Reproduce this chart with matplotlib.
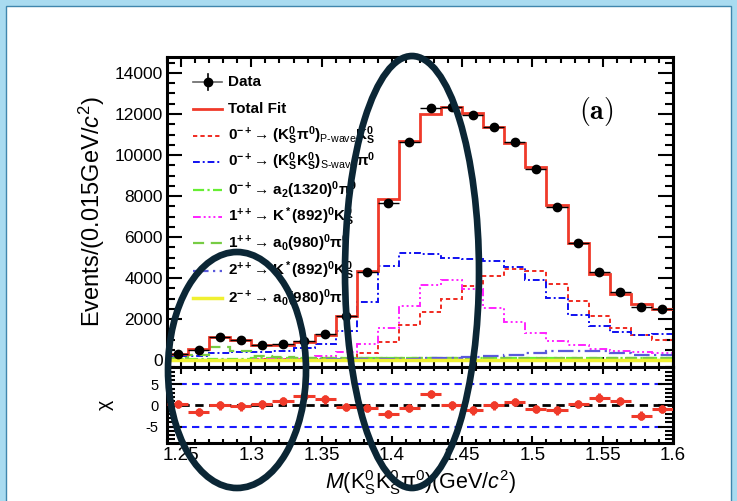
import numpy as np
import matplotlib
matplotlib.use("Agg")
import matplotlib.pyplot as plt
from matplotlib.patches import Rectangle, Ellipse
from matplotlib.lines import Line2D
from matplotlib.ticker import MultipleLocator, FixedLocator

# ---------------- data ----------------
bin_low = 1.24
bin_width = 0.015
n_bins = 24

data = [300, 480, 1140, 975, 755, 765, 920, 1270, 2150, 4280, 7670, 10650,
        12280, 12360, 11950, 11380, 10650, 9320, 7480, 5720, 4310, 3300, 2600, 2470]
data_err = [17, 22, 34, 31, 27, 28, 30, 36, 46, 65, 88, 103,
            111, 111, 109, 107, 103, 97, 86, 76, 66, 57, 51, 50]
total_fit = [290, 515, 1140, 980, 750, 738, 855, 1220, 2170, 4320, 7840, 10700,
             11990, 12360, 12070, 11380, 10570, 9400, 7580, 5690, 4190, 3240, 2720, 2510]
pwave_kspi = [20, 20, 25, 25, 30, 35, 40, 50, 65, 340, 900, 1700,
              2340, 2970, 3610, 4100, 4450, 4330, 3720, 2890, 2150, 1560, 1220, 990]
swave_ksks = [180, 180, 340, 375, 375, 420, 585, 800, 1430, 2850, 4580, 5230,
              5180, 4970, 4920, 4840, 4520, 3920, 3020, 2180, 1640, 1350, 1220, 1280]
a2_1320 = [60, 60, 70, 70, 80, 80, 90, 90, 100, 100, 100, 110,
           110, 110, 110, 120, 120, 120, 110, 110, 100, 100, 100, 90]
kstar_1pp = [10, 10, 15, 20, 30, 45, 65, 180, 390, 780, 1580, 2650,
             3650, 3900, 3450, 2560, 1870, 1310, 950, 720, 555, 460, 400, 320]
a0_1pp = [110, 230, 620, 455, 190, 150, 120, 100, 90, 90, 90, 90,
          90, 90, 90, 90, 100, 100, 100, 100, 100, 100, 100, 100]
kstar_2pp = [15, 15, 15, 20, 20, 20, 25, 30, 40, 50, 60, 70,
             80, 100, 130, 180, 230, 340, 455, 455, 420, 340, 255, 225]
a0_2mp = [15, 15, 20, 20, 20, 20, 20, 20, 20, 20, 20, 20,
          25, 25, 25, 25, 25, 25, 25, 25, 25, 25, 25, 25]
chi = [0.4, -1.6, 0.0, -0.25, 0.25, 1.05, 2.2, 1.45, -0.4, -0.55, -2.0, -0.55,
       2.65, 0.0, -1.2, 0.0, 0.75, -0.8, -1.2, 0.4, 1.85, 1.05, -2.4, -0.8]
chi_err = [1.0] * n_bins
chi_ref_blue = [-5, 5]
chi_ref_black = [0]

x_ticks = [1.25, 1.30, 1.35, 1.40, 1.45, 1.50, 1.55, 1.60]
x_tick_labels = ["1.25", "1.3", "1.35", "1.4", "1.45", "1.5", "1.55", "1.6"]
y_ticks = [0, 2000, 4000, 6000, 8000, 10000, 12000, 14000]
chi_ticks = [-5, 0, 5]

legend_labels = [
    "Data",
    "Total Fit",
    "0$^{-+}$\u2192 (K$_S^0$\u03c0$^0$)$_{\\text{P-wave}}$K$_S^0$",
    "0$^{-+}$\u2192 (K$_S^0$K$_S^0$)$_{\\text{S-wave}}$\u03c0$^0$",
    "0$^{-+}$\u2192 a$_2$(1320)$^0$\u03c0$^0$",
    "1$^{++}$\u2192 K$^*$(892)$^0$K$_S^0$",
    "1$^{++}$\u2192 a$_0$(980)$^0$\u03c0$^0$",
    "2$^{++}$\u2192 K$^*$(892)$^0$K$_S^0$",
    "2$^{-+}$\u2192 a$_0$(980)$^0$\u03c0$^0$",
]

# ---------------- style ----------------
plt.rcParams["font.family"] = ["Liberation Sans", "DejaVu Sans"]
plt.rcParams["mathtext.fontset"] = "custom"
plt.rcParams["mathtext.rm"] = "Liberation Sans"
plt.rcParams["mathtext.it"] = "Liberation Sans:italic"
plt.rcParams["mathtext.bf"] = "Liberation Sans:bold"
plt.rcParams["mathtext.default"] = "regular"
plt.rcParams["axes.unicode_minus"] = False

W, H = 737, 501
fig = plt.figure(figsize=(W / 100, H / 100), dpi=100)
fig.patch.set_facecolor("white")

def fx(x):
    return x / W

def fy(y):
    return 1 - y / H

def px_box(l, t, r, b):
    return [l / W, 1 - b / H, (r - l) / W, (b - t) / H]

# page border (light blue frame)
fig.add_artist(Rectangle((0, 0), 1, 1, transform=fig.transFigure,
                         facecolor="#a9dbf0", edgecolor="none", zorder=-10))
fig.add_artist(Rectangle((fx(6), fy(H + 10)), fx(W - 12), (H + 4) / H,
                         transform=fig.transFigure, facecolor="white",
                         edgecolor="#3f86ad", linewidth=1.0, zorder=-9))

edges = np.round(bin_low + bin_width * np.arange(n_bins + 1), 4)
centers = (edges[:-1] + edges[1:]) / 2

ax = fig.add_axes(px_box(167, 57, 673, 367))
axr = fig.add_axes(px_box(167, 367, 673, 443), sharex=ax)

RED = "#f03a2a"
comp_styles = [
    (pwave_kspi, "#f02a20", (0, (2.2, 1.6)), 1.4),
    (swave_ksks, "#1010f0", (0, (3.5, 1.5, 1, 1.5)), 1.4),
    (a2_1320, "#66ee33", (0, (5, 1.5, 1, 1.5)), 1.6),
    (kstar_1pp, "#ff22ff", (0, (4, 1.5, 1, 1.5, 1, 1.5, 1, 1.5)), 1.4),
    (a0_1pp, "#77cc44", (0, (5, 3)), 1.6),
    (kstar_2pp, "#5a5adc", (0, (7, 2, 1, 2)), 1.6),
    (a0_2mp, "#f0f030", "-", 2.5),
]

for vals, col, ls, lw in comp_styles:
    ax.stairs(vals, edges, baseline=None, color=col, linestyle=ls, linewidth=lw, zorder=2)

ax.stairs(total_fit, edges, baseline=None, color=RED, linewidth=2.0, zorder=3)
ax.errorbar(centers, data, xerr=bin_width / 2, yerr=data_err, fmt="o", color="black",
            ms=6, elinewidth=1.0, capsize=0, zorder=4)

ax.set_xlim(edges[0], edges[-1])
ax.set_ylim(-340, 14780)
ax.yaxis.set_major_locator(FixedLocator(y_ticks))
ax.yaxis.set_minor_locator(MultipleLocator(500))
ax.xaxis.set_major_locator(FixedLocator(x_ticks))
ax.xaxis.set_minor_locator(MultipleLocator(0.01))
ax.set_yticklabels([str(v) for v in y_ticks])
ax.tick_params(axis="both", which="both", direction="in", top=True, right=True,
               labelbottom=False, width=1.5)
ax.tick_params(axis="y", which="major", length=10.5, labelsize=12.5, pad=3)
ax.tick_params(axis="y", which="minor", length=5.5)
ax.tick_params(axis="x", which="major", length=7)
ax.tick_params(axis="x", which="minor", length=4)
for s in ax.spines.values():
    s.set_linewidth(2.2)
ax.set_ylabel("Events/(0.015GeV/$\\mathit{c}^2$)", fontsize=17)
ax.yaxis.set_label_coords(-0.118, 0.5)

# residual panel
for lv in chi_ref_blue:
    axr.axhline(lv, color="#1a1aff", linestyle=(0, (3.5, 2.5)), linewidth=1.5, zorder=1)
for lv in chi_ref_black:
    axr.axhline(lv, color="black", linestyle=(0, (3, 2)), linewidth=2.0, zorder=1)
axr.errorbar(centers, chi, xerr=bin_width / 2, yerr=chi_err, fmt="o", color=RED,
             ms=5, elinewidth=2.2, capsize=0, zorder=3)
axr.set_ylim(-8.9, 9.1)
axr.yaxis.set_major_locator(FixedLocator(chi_ticks))
axr.yaxis.set_minor_locator(MultipleLocator(1))
axr.set_xticks(x_ticks)
axr.set_xticklabels(x_tick_labels)
axr.tick_params(axis="both", which="both", direction="in", top=True, right=True, width=1.5)
axr.tick_params(axis="x", which="major", length=5, labelsize=13.5, pad=3)
axr.tick_params(axis="x", which="minor", length=3)
axr.tick_params(axis="y", which="major", length=10.5, labelsize=10.5, pad=6)
axr.tick_params(axis="y", which="minor", length=5.5)
for s in axr.spines.values():
    s.set_linewidth(2.2)
axr.set_ylabel("\u03c7", fontsize=14)
axr.yaxis.set_label_coords(-0.105, 0.5)
axr.set_xlabel("$\\mathit{M}$(K$_S^0$K$_S^0$\u03c0$^0$)(GeV/$\\mathit{c}^2$)", fontsize=15.5)
axr.xaxis.set_label_coords(0.502, -0.33)

# legend (drawn manually to match ROOT layout)
row_y = [82, 109, 136, 162, 190, 217, 243, 271, 298]
handle_specs = [("black", "-", 1.0), (RED, "-", 2.0)] + [(c, ls, lw) for _, c, ls, lw in comp_styles]
for i, (label, yy) in enumerate(zip(legend_labels, row_y)):
    col, ls, lw = handle_specs[i]
    if i == 0:
        fig.add_artist(Line2D([fx(193), fx(222)], [fy(yy)] * 2, transform=fig.transFigure,
                              color="#666666", linewidth=1.2))
        fig.add_artist(Line2D([fx(207.5)] * 2, [fy(yy - 8), fy(yy + 8)], transform=fig.transFigure,
                              color="black", linewidth=1.2))
        fig.add_artist(Line2D([fx(207.5)], [fy(yy)], transform=fig.transFigure,
                              color="black", marker="o", ms=6, linestyle="none"))
    else:
        fig.add_artist(Line2D([fx(193), fx(222)], [fy(yy)] * 2, transform=fig.transFigure,
                              color=col, linestyle=ls, linewidth=lw))
    fig.text(fx(228), fy(yy), label, fontsize=11, fontweight="bold", va="center", ha="left")

fig.text(fx(596), fy(111), r"$\mathbf{(a)}$", fontsize=20, math_fontfamily="cm",
         ha="center", va="center")

# annotation ellipses
for (cx, cy, w, h) in [(237, 370, 138, 236), (412, 272, 134, 432)]:
    fig.add_artist(Ellipse((fx(cx), fy(cy)), w / W, h / H, transform=fig.transFigure,
                           fill=False, edgecolor="#0b2635", linewidth=4.8, zorder=20))

fig.savefig("out.png", dpi=100, facecolor=fig.get_facecolor())
